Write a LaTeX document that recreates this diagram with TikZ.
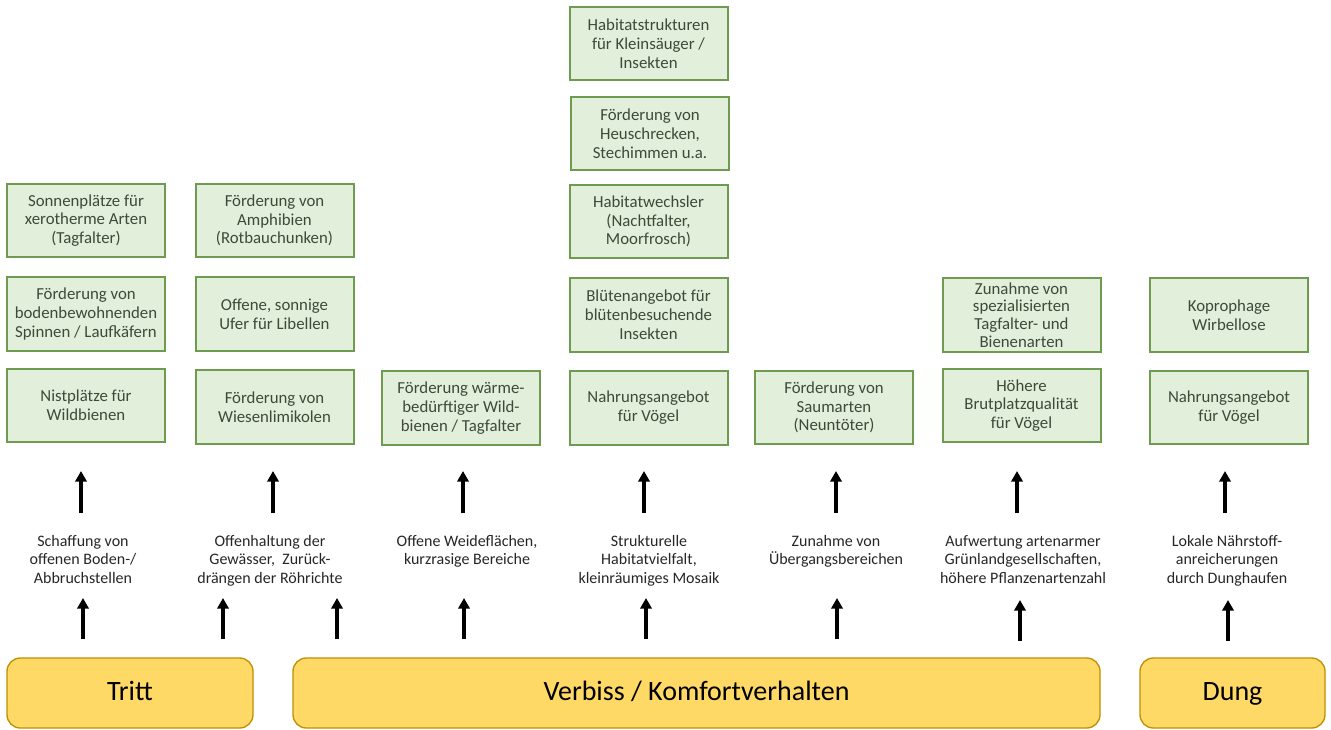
\documentclass[tikz,border=0pt]{standalone}
\usepackage{fontspec}
\setmainfont{Carlito}
\usetikzlibrary{arrows.meta}
\definecolor{boxfill}{HTML}{E2EFDA}
\definecolor{boxedge}{HTML}{6E9B50}
\definecolor{boxtext}{HTML}{3E4A38}
\definecolor{basefill}{HTML}{FFD966}
\definecolor{baseedge}{HTML}{BF9000}
\tikzset{
  gbox/.style={draw=boxedge, line width=1.5pt, fill=boxfill, text=boxtext,
    minimum width=118.5pt, minimum height=55pt, align=center, inner sep=0pt,
    font=\fontsize{12.6}{14.1}\selectfont},
  effect/.style={align=center, anchor=north, inner sep=0pt, text=black!85,
    font=\fontsize{12}{13.9}\selectfont},
  base/.style={draw=baseedge, line width=1pt, fill=basefill, rounded corners=10pt,
    minimum height=52.5pt, inner sep=0pt, text height=15pt, text depth=4pt,
    font=\fontsize{21}{24}\selectfont},
  arr/.style={line width=2.8pt, -{Triangle[width=8.5pt,length=8pt]}}
}
\begin{document}
\begin{tikzpicture}[x=0.75pt, y=-0.75pt]
\useasboundingbox (0,0) rectangle (1331,729);

% causes
\node[base, minimum width=184.5pt] (tritt) at (130,693) {Tritt};
\node[base, minimum width=605.25pt] (verbiss) at (696.5,693) {Verbiss / Komfortverhalten};
\node[base, minimum width=138.75pt] (dung) at (1232.5,693) {Dung};

% direct effects
\node[effect] (e1) at (83,535) {Schaffung von\\offenen Boden-/\\Abbruchstellen};
\node[effect] (e2) at (270,535) {Offenhaltung der\\Gewässer,\ \ Zurück-\\drängen der Röhrichte};
\node[effect] (e3) at (467,535) {Offene Weideflächen,\\kurzrasige Bereiche};
\node[effect] (e4) at (649,535) {Strukturelle\\Habitatvielfalt,\\kleinräumiges Mosaik};
\node[effect] (e5) at (836,535) {Zunahme von\\Übergangsbereichen};
\node[effect] (e6) at (1023,535) {Aufwertung artenarmer\\Grünlandgesellschaften,\\höhere Pflanzenartenzahl};
\node[effect] (e7) at (1227,535) {Lokale Nährstoff-\\anreicherungen\\durch Dunghaufen};

% species groups
\node[gbox] (a1) at (86,405.5) {Nistplätze für\\Wildbienen};
\node[gbox] (a2) at (86,314) {Förderung von\\bodenbewohnenden\\Spinnen / Laufkäfern};
\node[gbox] (a3) at (86,220.5) {Sonnenplätze für\\xerotherme Arten\\(Tagfalter)};

\node[gbox] (b1) at (274.5,407) {Förderung von\\Wiesenlimikolen};
\node[gbox] (b2) at (274.5,314) {Offene, sonnige\\Ufer für Libellen};
\node[gbox] (b3) at (274.5,220.5) {Förderung von\\Amphibien\\(Rotbauchunken)};

\node[gbox] (c1) at (461,408) {Förderung wärme-\\bedürftiger Wild-\\bienen / Tagfalter};

\node[gbox] (d1) at (648.5,408) {Nahrungsangebot\\für Vögel};
\node[gbox] (d2) at (648.5,315) {Blütenangebot für\\blütenbesuchende\\Insekten};
\node[gbox] (d3) at (648.5,221.5) {Habitatwechsler\\(Nachtfalter,\\Moorfrosch)};
\node[gbox] (d4) at (650,133.5) {Förderung von\\Heuschrecken,\\Stechimmen u.a.};
\node[gbox] (d5) at (648.5,43.5) {Habitatstrukturen\\für Kleinsäuger /\\Insekten};

\node[gbox] (f1) at (834,407.5) {Förderung von\\Saumarten\\(Neuntöter)};

\node[gbox] (g1) at (1021.5,405.5) {Höhere\\Brutplatzqualität\\für Vögel};
\node[gbox, font=\fontsize{12.6}{13.2}\selectfont] (g2) at (1021.5,315) {Zunahme von\\spezialisierten\\Tagfalter- und\\Bienenarten};

\node[gbox] (h1) at (1229,407.5) {Nahrungsangebot\\für Vögel};
\node[gbox] (h2) at (1229,315) {Koprophage\\Wirbellose};

% arrow ends
\foreach \n/\x in {1/83, 2/223, 3/337, 4/464, 5/646, 6/837} {
  \coordinate (ls\n) at (\x,639);
  \coordinate (le\n) at (\x,598);
}
\foreach \n/\x in {7/1020, 8/1228} {
  \coordinate (ls\n) at (\x,641);
  \coordinate (le\n) at (\x,600);
}
\foreach \n/\x in {1/81, 2/273, 3/463, 4/644, 5/836, 6/1017, 7/1225} {
  \coordinate (us\n) at (\x,513);
  \coordinate (ue\n) at (\x,471);
}

% arrows: cause -> effect
\foreach \n in {1,...,8} \draw[arr] (ls\n) -- (le\n);
% arrows: effect -> species
\foreach \n in {1,...,7} \draw[arr] (us\n) -- (ue\n);
\end{tikzpicture}
\end{document}
